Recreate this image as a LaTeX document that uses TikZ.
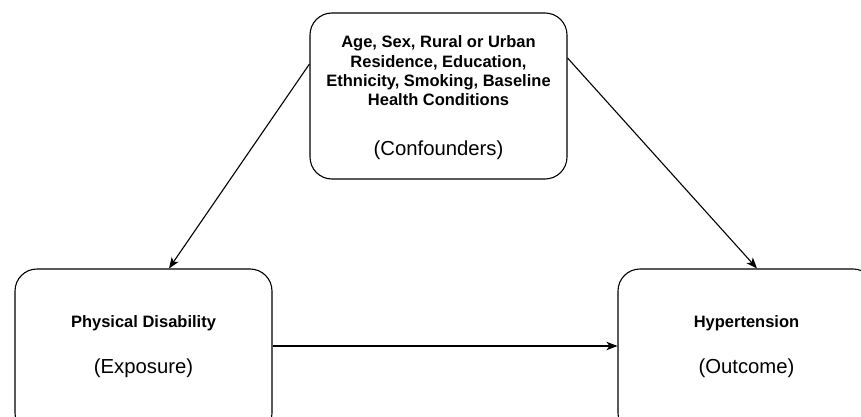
\documentclass[tikz,border=0pt]{standalone}
\usepackage{fontspec}
\setmainfont{Liberation Sans}
\usetikzlibrary{arrows.meta}

\tikzset{
  box/.style={draw, line width=1.1pt, rounded corners=22pt,
    minimum width=257pt, minimum height=166pt, inner sep=0pt},
  boldtext/.style={align=center, inner sep=0pt,
    font=\fontsize{16.5}{19.3}\selectfont\bfseries},
  plaintext/.style={inner sep=0pt, font=\fontsize{20.3}{24}\selectfont},
  arrow/.style={-{Stealth[length=11pt,width=8.5pt,inset=3pt]}, line width=1.1pt}
}

\begin{document}
\begin{tikzpicture}[x=1pt,y=-1pt]
  % Page size as in the reference
  \useasboundingbox (0,0) rectangle (861,417);

  % Confounders on top
  \node[box] (conf) at (438.5,96) {};
  \node[boldtext] (conftext) at (438.5,71) {Age, Sex, Rural or Urban\\Residence, Education,\\Ethnicity, Smoking, Baseline\\Health Conditions};
  \node[plaintext] (conflabel) at (438.5,150) {(Confounders)};

  % Exposure on the left
  \node[box] (expo) at (143.5,352) {};
  \node[boldtext] (expotext) at (143.5,323) {Physical Disability};
  \node[plaintext] (expolabel) at (143.5,368) {(Exposure)};

  % Outcome on the right
  \node[box] (outc) at (746.5,352) {};
  \node[boldtext] (outctext) at (746.5,323) {Hypertension};
  \node[plaintext] (outclabel) at (746.5,368) {(Outcome)};

  % Arrows
  \draw[arrow] ([yshift=32pt]conf.west) -- ([xshift=25.5pt]expo.north);
  \draw[arrow] ([yshift=38pt]conf.east) -- ([xshift=10.5pt]outc.north);
  \draw[arrow] ([yshift=6pt]expo.east) -- ([yshift=6pt]outc.west);

\end{tikzpicture}
\end{document}
